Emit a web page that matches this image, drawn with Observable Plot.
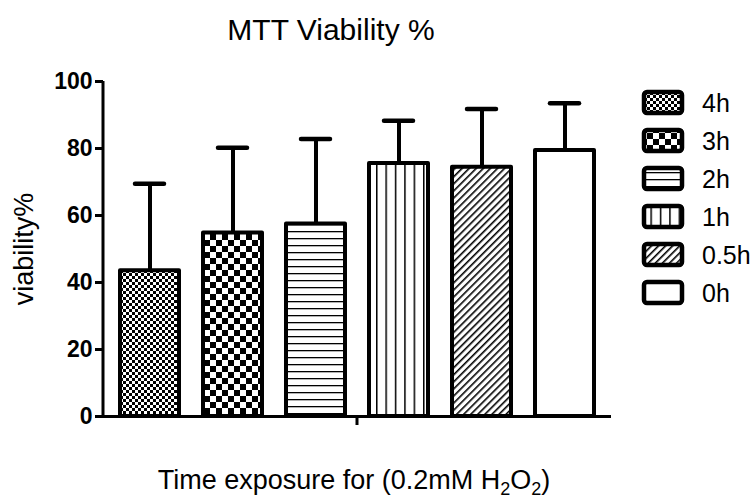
<!DOCTYPE html>
<html>
<head>
<meta charset="utf-8">
<script src="https://cdn.jsdelivr.net/npm/d3@7"></script>
<script src="https://cdn.jsdelivr.net/npm/@observablehq/plot@0.6"></script>
<style>
  html, body { margin: 0; padding: 0; background: #fff; }
  #wrap { position: relative; width: 756px; height: 498px; font-family: "Liberation Sans", Arial, sans-serif; color: #000; overflow: hidden; }
  #title { position: absolute; left: 0; width: 662px; top: 13px; text-align: center; font-size: 30px; line-height: normal; }
  #xlabel { position: absolute; left: 0; width: 708px; top: 465px; text-align: center; font-size: 27px; white-space: nowrap; line-height: normal; }
  #xlabel sub { font-size: 18px; vertical-align: -6px; line-height: 0; }
  #ylabel { position: absolute; left: 23.5px; top: 249px; transform: translate(-50%, -50%) rotate(-90deg); font-size: 27px; white-space: nowrap; line-height: normal; }
  #legend { position: absolute; left: 641px; top: 84px; }
  .li { display: flex; align-items: center; height: 38px; font-size: 25px; }
  .li svg { margin-right: 15px; display: block; }
</style>
</head>
<body>
<div id="wrap">
  <div id="title">MTT Viability %</div>
  <div id="ylabel">viability%</div>
  <div id="xlabel">Time exposure for (0.2mM H<sub>2</sub>O<sub>2</sub>)</div>
  <div id="legend"></div>
</div>
<script>
const categories = ["4h", "3h", "2h", "1h", "0.5h", "0h"];
const means = [43.5, 54.8, 57.5, 75.5, 74.4, 79.4];
const upperErrors = [69.5, 80.2, 82.8, 88.3, 91.8, 93.5];
const yTicks = [0, 20, 40, 60, 80, 100];
const patternIds = ["p4h", "p3h", "p2h", "p1h", "p05h", "p0h"];

const data = categories.map((c, i) => ({cat: c, value: means[i], upper: upperErrors[i]}));

const chart = Plot.plot({
  width: 756,
  height: 498,
  marginLeft: 103,
  marginRight: 145,
  marginTop: 81,
  marginBottom: 82,
  style: {fontFamily: '"Liberation Sans", Arial, sans-serif', background: "transparent"},
  x: {domain: categories, paddingInner: 0.29, paddingOuter: 0.17, axis: null},
  y: {domain: [0, 100], axis: null},
  color: {type: "ordinal", domain: categories, range: patternIds.map(id => `url(#${id})`)},
  marks: [
    Plot.ruleX(data, {x: "cat", y1: "value", y2: "upper", stroke: "black", strokeWidth: 4}),
    Plot.tickY(data, {x: "cat", y: "upper", stroke: "black", strokeWidth: 4.5, strokeLinecap: "round", insetLeft: 15, insetRight: 15}),
    Plot.barY(data, {x: "cat", y: "value", fill: "cat", stroke: "black", strokeWidth: 4, strokeLinejoin: "round"}),
    Plot.ruleY([0], {stroke: "black", strokeWidth: 3}),
    Plot.axisY({ticks: yTicks, tickSize: 8, tickPadding: 3, strokeWidth: 3, fontSize: 23, fontWeight: "bold", label: null, anchor: "left"})
  ]
});

const svg = d3.select(chart);
// y-axis line and x center tick derived from the scales
const ys = chart.scale("y"), xs = chart.scale("x");
const xr = [103, 756 - 145];
svg.append("line").attr("x1", xr[0]).attr("x2", xr[0]).attr("y1", ys.apply(0) + 1.5).attr("y2", ys.apply(100))
  .attr("stroke", "black").attr("stroke-width", 3);
const xmid = (xs.apply(categories[2]) + xs.bandwidth + xs.apply(categories[3])) / 2;
svg.append("line").attr("x1", xmid).attr("x2", xmid).attr("y1", ys.apply(0)).attr("y2", ys.apply(0) + 9)
  .attr("stroke", "black").attr("stroke-width", 3);

const defs = svg.insert("defs", ":first-child");
function pat(id, w, h, draw, transform) {
  const p = defs.append("pattern").attr("id", id).attr("patternUnits", "userSpaceOnUse").attr("width", w).attr("height", h);
  if (transform) p.attr("patternTransform", transform);
  p.append("rect").attr("width", w).attr("height", h).attr("fill", "white");
  draw(p);
}
pat("p4h", 6, 6, p => { p.append("rect").attr("width", 3).attr("height", 3); p.append("rect").attr("x", 3).attr("y", 3).attr("width", 3).attr("height", 3); });
pat("p3h", 12, 12, p => { p.append("rect").attr("width", 6).attr("height", 6); p.append("rect").attr("x", 6).attr("y", 6).attr("width", 6).attr("height", 6); });
pat("p2h", 7, 7, p => { p.append("rect").attr("y", 0).attr("width", 7).attr("height", 1.3); });
pat("p1h", 9.4, 9.4, p => { p.append("rect").attr("x", 0).attr("width", 1.5).attr("height", 9.4); });
pat("p05h", 5, 5, p => { p.append("rect").attr("x", 0).attr("width", 1.6).attr("height", 5); }, "rotate(45)");
pat("p0h", 4, 4, p => {});

const legend = d3.select("#legend");
categories.forEach((c, i) => {
  const row = legend.append("div").attr("class", "li");
  const s = row.append("svg").attr("width", 46).attr("height", 28);
  s.append("rect").attr("x", 3).attr("y", 3).attr("width", 38).attr("height", 21).attr("rx", 3)
    .attr("fill", chart.scale("color").apply(c)).attr("stroke", "black").attr("stroke-width", 4.5);
  row.append("span").text(c);
});

document.getElementById("wrap").insertBefore(chart, document.getElementById("wrap").firstChild);
chart.style.position = "absolute"; chart.style.left = "0"; chart.style.top = "0";
</script>
</body>
</html>
